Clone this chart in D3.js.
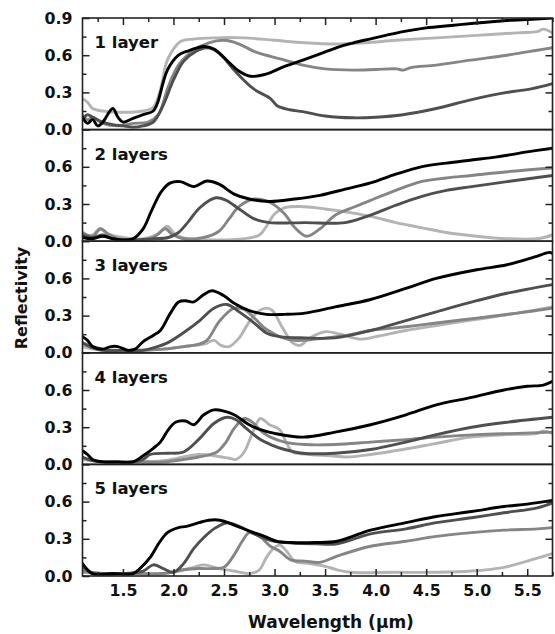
<!DOCTYPE html>
<html><head><meta charset="utf-8">
<script src="https://cdn.jsdelivr.net/npm/d3@7"></script>
<style>body{margin:0;background:#fff}svg{display:block}</style>
</head><body><svg id="chart" width="555" height="634"></svg>
<script>
// ---- data (wavelength µm, reflectivity) ----
const panelLabels = ["1 layer", "2 layers", "3 layers", "4 layers", "5 layers"];
const wavelengthMajorTicks = [1.5, 2.0, 2.5, 3.0, 3.5, 4.0, 4.5, 5.0, 5.5];
const wavelengthMinorTicks = [1.25, 1.75, 2.25, 2.75, 3.25, 3.75, 4.25, 4.75, 5.25, 5.75];
const reflTicksTop = [0.0, 0.3, 0.6, 0.9];
const reflTicks = [0.0, 0.3, 0.6];
const reflMinorTicks = [0.15, 0.45, 0.75];

const l1Black = [[1.1,0.10],[1.15,0.05],[1.2,0.08],[1.25,0.03],[1.3,0.06],[1.4,0.17],[1.45,0.10],[1.5,0.06],[1.6,0.09],[1.7,0.12],[1.8,0.15],[1.84,0.21],[1.94,0.48],[2.05,0.60],[2.13,0.63],[2.3,0.67],[2.4,0.65],[2.5,0.58],[2.65,0.47],[2.76,0.43],[2.88,0.44],[2.96,0.46],[3.1,0.51],[3.28,0.56],[3.45,0.61],[3.61,0.66],[3.78,0.70],[3.94,0.73],[4.1,0.76],[4.27,0.79],[4.5,0.82],[4.75,0.84],[5.0,0.86],[5.3,0.88],[5.55,0.89],[5.75,0.90]];
const l1Dark = [[1.1,0.08],[1.15,0.12],[1.2,0.10],[1.3,0.06],[1.4,0.04],[1.5,0.03],[1.6,0.02],[1.7,0.03],[1.8,0.06],[1.9,0.20],[2.0,0.40],[2.1,0.55],[2.22,0.63],[2.33,0.66],[2.45,0.62],[2.6,0.48],[2.79,0.33],[2.96,0.25],[3.03,0.19],[3.15,0.16],[3.28,0.145],[3.5,0.11],[3.78,0.095],[4.0,0.10],[4.27,0.12],[4.6,0.17],[4.94,0.24],[5.3,0.30],[5.55,0.33],[5.75,0.37]];
const l1Medium = [[1.1,0.12],[1.15,0.08],[1.2,0.10],[1.3,0.05],[1.45,0.03],[1.6,0.05],[1.75,0.06],[1.85,0.12],[1.95,0.35],[2.05,0.52],[2.2,0.64],[2.35,0.70],[2.5,0.72],[2.65,0.69],[2.8,0.63],[2.96,0.59],[3.1,0.56],[3.28,0.52],[3.5,0.49],[3.78,0.48],[4.0,0.485],[4.21,0.49],[4.27,0.48],[4.35,0.50],[4.6,0.52],[4.94,0.56],[5.3,0.60],[5.6,0.64],[5.75,0.66]];
const l1Light = [[1.1,0.25],[1.15,0.22],[1.2,0.17],[1.3,0.15],[1.5,0.14],[1.7,0.15],[1.8,0.18],[1.87,0.32],[1.94,0.56],[2.07,0.71],[2.2,0.73],[2.4,0.74],[2.7,0.74],[3.0,0.72],[3.3,0.70],[3.6,0.69],[3.9,0.70],[4.2,0.72],[4.6,0.74],[5.0,0.76],[5.4,0.78],[5.6,0.79],[5.66,0.81],[5.75,0.78]];

const l2Black = [[1.1,0.03],[1.2,0.02],[1.3,0.04],[1.4,0.02],[1.5,0.01],[1.6,0.02],[1.7,0.10],[1.78,0.24],[1.88,0.40],[1.97,0.47],[2.07,0.48],[2.2,0.44],[2.33,0.485],[2.45,0.46],[2.6,0.38],[2.75,0.34],[2.95,0.32],[3.2,0.34],[3.45,0.37],[3.7,0.42],[3.95,0.47],[4.2,0.54],[4.45,0.60],[4.7,0.63],[4.95,0.655],[5.2,0.68],[5.5,0.72],[5.75,0.75]];
const l2Dark = [[1.1,0.05],[1.2,0.03],[1.3,0.05],[1.4,0.02],[1.6,0.01],[1.8,0.02],[1.95,0.03],[2.05,0.07],[2.15,0.16],[2.26,0.27],[2.42,0.35],[2.52,0.33],[2.65,0.26],[2.8,0.18],[2.95,0.15],[3.3,0.15],[3.7,0.15],[3.95,0.21],[4.2,0.29],[4.45,0.36],[4.7,0.41],[4.95,0.44],[5.3,0.48],[5.75,0.53]];
const l2Medium = [[1.1,0.07],[1.2,0.04],[1.28,0.10],[1.35,0.06],[1.45,0.02],[1.6,0.01],[1.8,0.03],[1.92,0.10],[1.98,0.06],[2.1,0.02],[2.3,0.03],[2.45,0.08],[2.55,0.18],[2.65,0.28],[2.8,0.34],[2.96,0.31],[3.1,0.22],[3.2,0.11],[3.32,0.04],[3.45,0.10],[3.6,0.21],[3.8,0.28],[3.95,0.33],[4.2,0.41],[4.45,0.48],[4.7,0.51],[4.95,0.53],[5.3,0.56],[5.75,0.59]];
const l2Light = [[1.1,0.05],[1.2,0.05],[1.27,0.10],[1.35,0.06],[1.5,0.03],[1.7,0.02],[1.85,0.06],[1.94,0.12],[2.02,0.05],[2.15,0.02],[2.4,0.01],[2.7,0.02],[2.85,0.05],[2.92,0.12],[3.0,0.22],[3.1,0.27],[3.25,0.28],[3.5,0.26],[3.75,0.23],[3.95,0.20],[4.2,0.15],[4.45,0.11],[4.7,0.07],[5.0,0.04],[5.3,0.02],[5.6,0.02],[5.75,0.05]];

const l3Black = [[1.1,0.13],[1.15,0.10],[1.2,0.05],[1.3,0.03],[1.38,0.05],[1.45,0.05],[1.55,0.02],[1.62,0.03],[1.7,0.09],[1.8,0.14],[1.87,0.18],[1.97,0.32],[2.05,0.41],[2.12,0.42],[2.2,0.41],[2.3,0.47],[2.38,0.50],[2.5,0.46],[2.6,0.40],[2.75,0.34],[2.92,0.31],[3.1,0.31],[3.3,0.32],[3.6,0.37],[3.95,0.43],[4.3,0.52],[4.6,0.60],[5.0,0.67],[5.3,0.71],[5.6,0.78],[5.72,0.81],[5.75,0.80]];
const l3Dark = [[1.1,0.08],[1.2,0.04],[1.3,0.02],[1.5,0.02],[1.7,0.02],[1.8,0.04],[1.94,0.08],[2.13,0.18],[2.26,0.26],[2.4,0.36],[2.53,0.39],[2.65,0.33],[2.8,0.24],[2.92,0.16],[3.05,0.13],[3.3,0.12],[3.6,0.12],[3.95,0.18],[4.3,0.26],[4.6,0.33],[5.0,0.42],[5.3,0.48],[5.75,0.55]];
const l3Medium = [[1.1,0.08],[1.3,0.03],[1.6,0.02],[1.9,0.03],[2.1,0.05],[2.25,0.07],[2.33,0.10],[2.46,0.26],[2.6,0.36],[2.7,0.35],[2.8,0.28],[2.9,0.20],[2.96,0.17],[3.05,0.13],[3.2,0.10],[3.4,0.11],[3.7,0.14],[3.95,0.18],[4.3,0.21],[4.6,0.24],[5.0,0.28],[5.4,0.32],[5.75,0.36]];
const l3Light = [[1.1,0.05],[1.3,0.02],[1.6,0.02],[1.9,0.03],[2.1,0.05],[2.3,0.07],[2.4,0.10],[2.47,0.06],[2.55,0.05],[2.65,0.12],[2.75,0.25],[2.85,0.34],[2.92,0.36],[2.98,0.34],[3.08,0.20],[3.18,0.08],[3.25,0.06],[3.35,0.12],[3.5,0.17],[3.65,0.15],[3.85,0.11],[4.0,0.13],[4.3,0.18],[4.6,0.22],[5.0,0.27],[5.4,0.32],[5.75,0.37]];

const l4Black = [[1.1,0.11],[1.15,0.08],[1.2,0.04],[1.3,0.02],[1.45,0.02],[1.6,0.02],[1.7,0.07],[1.8,0.13],[1.87,0.18],[1.95,0.28],[2.02,0.34],[2.12,0.35],[2.2,0.32],[2.3,0.40],[2.4,0.44],[2.5,0.43],[2.6,0.40],[2.75,0.32],[2.86,0.28],[3.0,0.25],[3.28,0.22],[3.6,0.26],[3.95,0.32],[4.3,0.40],[4.6,0.48],[4.95,0.54],[5.27,0.60],[5.5,0.63],[5.66,0.64],[5.75,0.67]];
const l4Dark = [[1.1,0.06],[1.2,0.03],[1.4,0.02],[1.6,0.02],[1.7,0.04],[1.77,0.08],[1.95,0.09],[2.1,0.10],[2.26,0.21],[2.4,0.33],[2.53,0.38],[2.62,0.36],[2.72,0.29],[2.86,0.20],[2.96,0.16],[3.1,0.12],[3.28,0.09],[3.6,0.09],[3.95,0.12],[4.3,0.18],[4.6,0.24],[4.95,0.30],[5.3,0.34],[5.75,0.38]];
const l4Medium = [[1.1,0.05],[1.3,0.02],[1.6,0.02],[1.9,0.02],[2.1,0.04],[2.25,0.06],[2.43,0.10],[2.52,0.18],[2.6,0.29],[2.7,0.37],[2.78,0.34],[2.88,0.26],[2.96,0.22],[3.1,0.18],[3.3,0.16],[3.6,0.16],[3.95,0.18],[4.3,0.20],[4.6,0.22],[5.0,0.24],[5.4,0.25],[5.75,0.26]];
const l4Light = [[1.1,0.04],[1.3,0.02],[1.6,0.02],[1.9,0.03],[2.1,0.06],[2.25,0.08],[2.4,0.07],[2.55,0.05],[2.62,0.04],[2.7,0.10],[2.78,0.25],[2.86,0.37],[2.95,0.32],[3.05,0.28],[3.12,0.17],[3.18,0.10],[3.35,0.08],[3.55,0.07],[3.71,0.06],[3.95,0.08],[4.27,0.12],[4.6,0.17],[4.94,0.22],[5.3,0.24],[5.6,0.25],[5.66,0.27],[5.75,0.25]];

const l5Black = [[1.1,0.10],[1.15,0.05],[1.2,0.02],[1.4,0.02],[1.6,0.02],[1.68,0.07],[1.77,0.15],[1.86,0.27],[1.94,0.35],[2.05,0.39],[2.13,0.40],[2.25,0.43],[2.35,0.45],[2.46,0.45],[2.6,0.41],[2.76,0.36],[2.9,0.32],[3.02,0.28],[3.16,0.27],[3.4,0.27],[3.62,0.28],[3.95,0.37],[4.3,0.43],[4.6,0.48],[4.95,0.52],[5.27,0.56],[5.5,0.58],[5.75,0.61]];
const l5Dark = [[1.1,0.08],[1.2,0.02],[1.5,0.02],[1.7,0.04],[1.8,0.09],[1.9,0.06],[2.0,0.03],[2.1,0.10],[2.2,0.22],[2.3,0.31],[2.4,0.38],[2.53,0.43],[2.65,0.40],[2.8,0.34],[2.95,0.29],[3.1,0.27],[3.4,0.26],[3.62,0.26],[3.95,0.34],[4.3,0.38],[4.6,0.43],[4.95,0.47],[5.27,0.51],[5.6,0.55],[5.75,0.59]];
const l5Medium = [[1.1,0.04],[1.3,0.02],[1.6,0.02],[1.9,0.02],[2.1,0.05],[2.25,0.06],[2.4,0.06],[2.5,0.07],[2.6,0.17],[2.68,0.28],[2.75,0.35],[2.85,0.32],[2.96,0.24],[3.05,0.20],[3.16,0.13],[3.3,0.12],[3.45,0.11],[3.62,0.16],[3.95,0.24],[4.3,0.28],[4.6,0.32],[4.95,0.35],[5.27,0.37],[5.6,0.38],[5.75,0.39]];
const l5Light = [[1.1,0.03],[1.3,0.02],[1.7,0.02],[1.9,0.02],[2.05,0.04],[2.2,0.07],[2.3,0.09],[2.45,0.06],[2.6,0.04],[2.76,0.02],[2.85,0.05],[2.92,0.15],[3.0,0.23],[3.05,0.25],[3.12,0.20],[3.2,0.12],[3.35,0.10],[3.49,0.08],[3.62,0.05],[3.75,0.03],[4.2,0.03],[4.6,0.03],[4.95,0.04],[5.27,0.07],[5.5,0.12],[5.75,0.18]];

const panelSeries = [
  [l1Black, l1Dark, l1Medium, l1Light],
  [l2Black, l2Dark, l2Medium, l2Light],
  [l3Black, l3Dark, l3Medium, l3Light],
  [l4Black, l4Dark, l4Medium, l4Light],
  [l5Black, l5Dark, l5Medium, l5Light]
];
const seriesColors = ["#000000", "#4f4f4f", "#858585", "#b4b4b4"];

// ---- layout ----
const FONT = "'DejaVu Sans', sans-serif";
const svg = d3.select("#chart");
const plotLeft = 82.5, plotRight = 552.5, plotTop = 18, plotBottom = 576;
const ph = (plotBottom - plotTop) / 5;
const x = d3.scaleLinear().domain([1.1, 5.75]).range([plotLeft, plotRight]);

const makeLine = (y) => d3.line().x(d => x(d[0])).y(d => y(d[1])).curve(d3.curveCatmullRom.alpha(0.5));

function styleAxis(a) {
  a.select(".domain").remove();
  a.selectAll(".tick line").attr("stroke", "#222").attr("stroke-width", 1.5);
  a.selectAll("text").attr("font-family", FONT).attr("font-weight", "bold")
    .attr("font-size", 15.8).attr("fill", "#111");
}

panelSeries.forEach((series, i) => {
  const y0 = plotTop + i * ph;
  const y = d3.scaleLinear().domain([0, 0.9]).range([y0 + ph, y0]);
  const g = svg.append("g");
  const cid = "clip" + i;
  svg.append("clipPath").attr("id", cid).append("rect")
    .attr("x", plotLeft).attr("y", y0).attr("width", plotRight - plotLeft).attr("height", ph);
  const lg = g.append("g").attr("clip-path", `url(#${cid})`);
  for (let k = series.length - 1; k >= 0; k--) {
    lg.append("path").attr("d", makeLine(y)(series[k]))
      .attr("fill", "none").attr("stroke", seriesColors[k])
      .attr("stroke-width", 2.9).attr("stroke-linejoin", "round").attr("stroke-linecap", "round");
  }
  g.append("rect").attr("x", plotLeft).attr("y", y0).attr("width", plotRight - plotLeft).attr("height", ph)
    .attr("fill", "none").attr("stroke", "#222").attr("stroke-width", 1.6);

  const labTicks = i === 0 ? reflTicksTop : reflTicks;
  styleAxis(g.append("g").attr("transform", `translate(${plotLeft},0)`)
    .call(d3.axisLeft(y).tickValues(labTicks).tickSize(-7).tickPadding(10).tickFormat(d3.format(".1f"))));
  styleAxis(g.append("g").attr("transform", `translate(${plotLeft},0)`)
    .call(d3.axisLeft(y).tickValues(reflMinorTicks).tickSize(-4).tickFormat("")));
  styleAxis(g.append("g").attr("transform", `translate(${plotRight},0)`)
    .call(d3.axisRight(y).tickValues([0.3, 0.6]).tickSize(-7).tickFormat("")));
  styleAxis(g.append("g").attr("transform", `translate(${plotRight},0)`)
    .call(d3.axisRight(y).tickValues(reflMinorTicks).tickSize(-4).tickFormat("")));

  if (i === 0) {
    styleAxis(g.append("g").attr("transform", `translate(0,${y0})`)
      .call(d3.axisTop(x).tickValues(wavelengthMajorTicks).tickSize(-7).tickFormat("")));
    styleAxis(g.append("g").attr("transform", `translate(0,${y0})`)
      .call(d3.axisTop(x).tickValues(wavelengthMinorTicks).tickSize(-4).tickFormat("")));
  }
  if (i === 4) {
    styleAxis(g.append("g").attr("transform", `translate(0,${y0 + ph})`)
      .call(d3.axisBottom(x).tickValues(wavelengthMajorTicks).tickSize(-7).tickPadding(9).tickFormat(d3.format(".1f"))));
    styleAxis(g.append("g").attr("transform", `translate(0,${y0 + ph})`)
      .call(d3.axisBottom(x).tickValues(wavelengthMinorTicks).tickSize(-4).tickFormat("")));
  }

  g.append("text").attr("x", plotLeft + 12).attr("y", y0 + 30)
    .attr("font-family", FONT).attr("font-weight", "bold").attr("font-size", 16.5).attr("fill", "#111")
    .text(panelLabels[i]);
});

svg.append("text").attr("transform", `translate(27,298) rotate(-90)`)
  .attr("text-anchor", "middle").attr("font-family", FONT).attr("font-weight", "bold")
  .attr("font-size", 16).attr("fill", "#111").text("Reflectivity");
svg.append("text").attr("x", 331).attr("y", 628)
  .attr("text-anchor", "middle").attr("font-family", FONT).attr("font-weight", "bold")
  .attr("font-size", 17).attr("fill", "#111").text("Wavelength (µm)");
</script></body></html>
